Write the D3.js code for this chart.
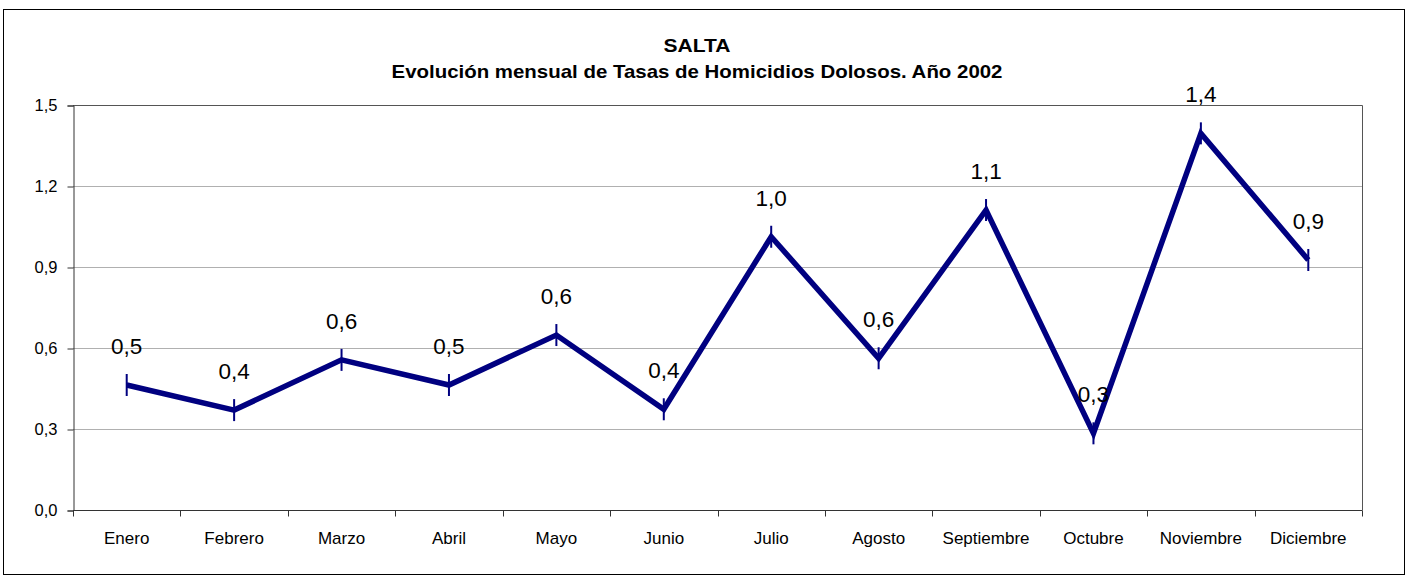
<!DOCTYPE html>
<html><head><meta charset="utf-8">
<script src="https://cdn.jsdelivr.net/npm/d3@7"></script>
<style>html,body{margin:0;padding:0;background:#fff;}svg{display:block;}</style>
</head><body>
<script>
const months = ["Enero","Febrero","Marzo","Abril","Mayo","Junio","Julio","Agosto","Septiembre","Octubre","Noviembre","Diciembre"];
const rates = [0.463,0.370,0.556,0.463,0.648,0.373,1.012,0.562,1.111,0.284,1.395,0.926];
const yTicks = [0,0.3,0.6,0.9,1.2,1.5];
const titleLines = ["SALTA","Evolución mensual de Tasas de Homicidios Dolosos. Año 2002"];

const W=1409,H=577;
const m={left:73,right:1362,top:105,bottom:510};
const fmt = v => d3.format(".1f")(v).replace(".",",");

const svg=d3.select("body").append("svg").attr("width",W).attr("height",H)
  .style("font-family","'Liberation Sans', Arial, sans-serif");

svg.append("rect").attr("x",3.5).attr("y",9.5).attr("width",1401).attr("height",565)
  .attr("fill","#fff").attr("stroke","#000").attr("stroke-width",1);

const x=d3.scaleBand().domain(months).range([m.left,m.right]).padding(0);
const y=d3.scaleLinear().domain([0,1.5]).range([m.bottom,m.top]);

// gridlines
svg.append("g").selectAll("line").data(yTicks.filter(t=>t>0&&t<1.5)).join("line")
  .attr("x1",m.left).attr("x2",m.right).attr("y1",d=>y(d)+0.5).attr("y2",d=>y(d)+0.5)
  .attr("stroke","#b0b0b0").attr("stroke-width",1);

// plot frame top and right
svg.append("path").attr("d",`M${m.left},${m.top+0.5}H${m.right+0.5}V${m.bottom}`)
  .attr("fill","none").attr("stroke","#555").attr("stroke-width",1);

// y axis
const yAxis=d3.axisLeft(y).tickValues(yTicks).tickFormat(fmt).tickSize(6).tickPadding(10);
const gy=svg.append("g").attr("transform",`translate(${m.left+0.5},0.5)`).call(yAxis);
gy.selectAll("text").attr("font-size",16.5).attr("fill","#000");
gy.selectAll("line,path").attr("stroke","#333");

// x axis with ticks at boundaries
const gx=svg.append("g").attr("transform",`translate(0,${m.bottom+0.5})`);
gx.append("line").attr("x1",m.left).attr("x2",m.right+0.5).attr("stroke","#333");
const bounds=months.map(d=>x(d)).concat([m.right]);
gx.selectAll("line.t").data(bounds).join("line").attr("class","t")
  .attr("x1",d=>Math.round(d)+0.5).attr("x2",d=>Math.round(d)+0.5).attr("y1",0).attr("y2",6).attr("stroke","#333");
gx.selectAll("text").data(months).join("text")
  .attr("x",d=>x(d)+x.bandwidth()/2).attr("y",33).attr("text-anchor","middle")
  .attr("font-size",17).attr("fill","#000").text(d=>d);

// line
const cx=(d,i)=>x(months[i])+x.bandwidth()/2;
const line=d3.line().x((d,i)=>cx(d,i)).y(d=>y(d));
svg.append("path").datum(rates).attr("d",line).attr("fill","none")
  .attr("stroke","#000080").attr("stroke-width",5.5).attr("stroke-linejoin","miter");

// markers
svg.append("g").selectAll("line").data(rates).join("line")
  .attr("x1",cx).attr("x2",cx).attr("y1",d=>y(d)-11).attr("y2",d=>y(d)+11)
  .attr("stroke","#000080").attr("stroke-width",2);

// data labels
svg.append("g").selectAll("text").data(rates).join("text")
  .attr("x",cx).attr("y",d=>y(d)-31).attr("text-anchor","middle")
  .attr("font-size",22.5).attr("fill","#000").text(fmt);

// title
const tW=[67,611];
svg.append("g").selectAll("text").data(titleLines).join("text")
  .attr("x",697).attr("y",(d,i)=>52+i*26).attr("text-anchor","middle")
  .attr("font-size",18.5).attr("font-weight","bold").attr("fill","#000")
  .attr("textLength",(d,i)=>tW[i]).attr("lengthAdjust","spacingAndGlyphs").text(d=>d);
</script>
</body></html>
